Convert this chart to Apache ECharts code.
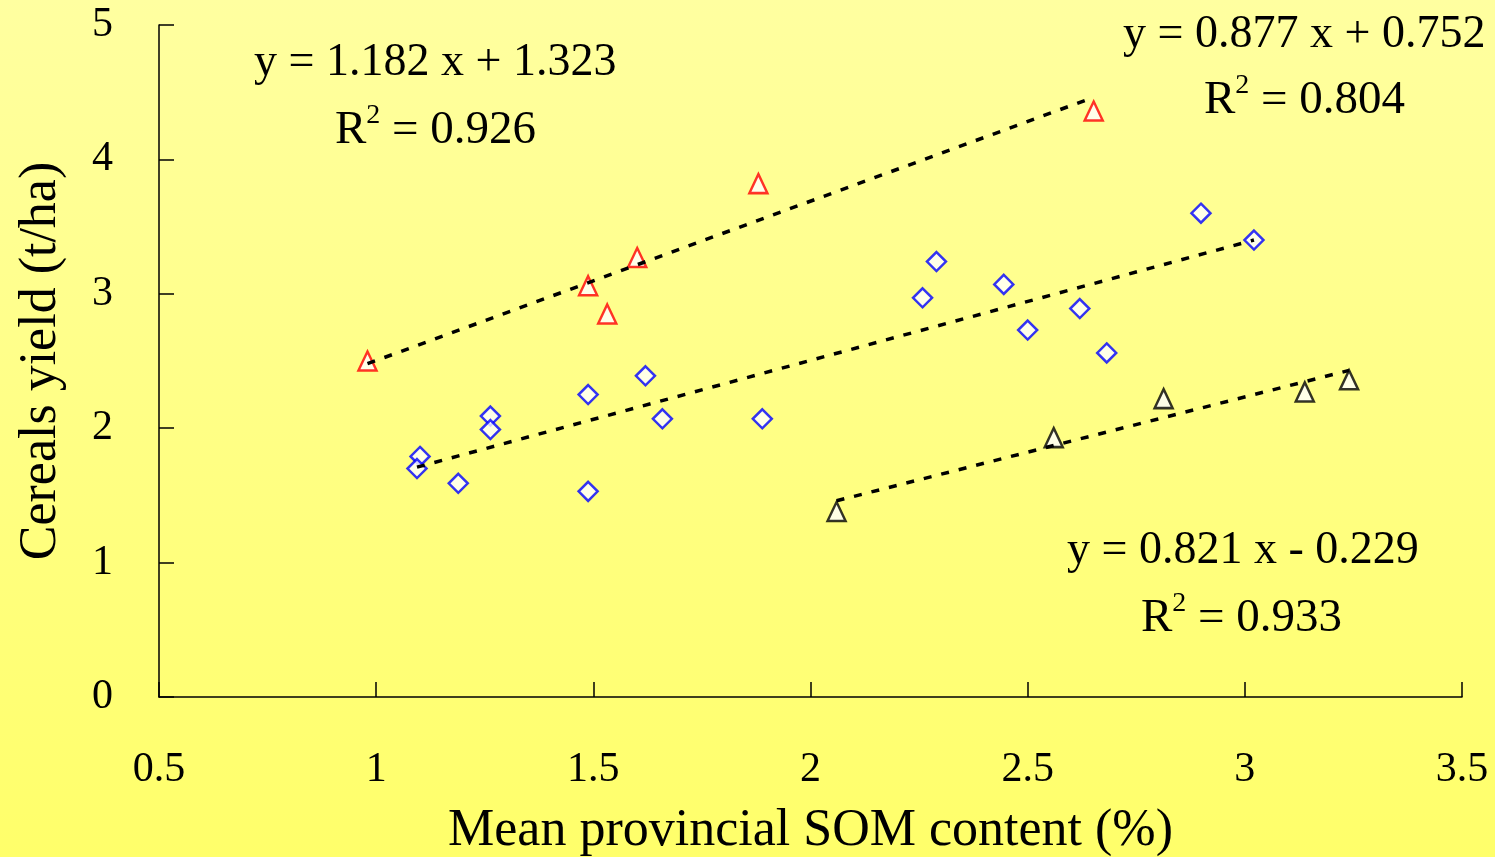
<!DOCTYPE html>
<html>
<head>
<meta charset="utf-8">
<script src="https://cdn.jsdelivr.net/npm/echarts@6/dist/echarts.min.js"></script>
<style>
html,body{margin:0;padding:0;background:#ffff99;}
#chart{width:1495px;height:857px;}
</style>
</head>
<body>
<div id="chart"></div>
<script>
// ---- data ----
var xTicks = [0.5, 1, 1.5, 2, 2.5, 3, 3.5];
var yTicks = [0, 1, 2, 3, 4, 5];

// red triangles
var redX = [0.98, 1.488, 1.532, 1.601, 1.880, 2.652];
var redY = [2.50, 3.06, 2.85, 3.27, 3.82, 4.36];

// blue diamonds
var blueX = [1.101, 1.094, 1.189, 1.263, 1.263, 1.488, 1.620, 1.659, 1.488, 1.889, 2.258, 2.290, 2.445, 2.500, 2.620, 2.682, 2.899, 3.021];
var blueY = [1.79, 1.70, 1.59, 2.09, 1.99, 2.25, 2.39, 2.07, 1.53, 2.07, 2.97, 3.24, 3.07, 2.73, 2.89, 2.56, 3.60, 3.40];

// black triangles
var blackX = [2.060, 2.560, 2.813, 3.138, 3.240];
var blackY = [1.38, 1.93, 2.22, 2.27, 2.36];

// trendline end points (x, y)
var redTrendX = [0.98, 2.65];
var redTrendY = [2.48, 4.46];
var blueTrendX = [1.094, 3.021];
var blueTrendY = [1.71, 3.40];
var blackTrendX = [2.06, 3.24];
var blackTrendY = [1.46, 2.43];

// equation texts
var eqRed = ['y = 1.182 x + 1.323', '0.926'];
var eqBlue = ['y = 0.877 x + 0.752', '0.804'];
var eqBlack = ['y = 0.821 x - 0.229', '0.933'];

function pairs(xs, ys) { return xs.map(function (x, i) { return [x, ys[i]]; }); }

var FONT = 'Liberation Serif, Times New Roman, serif';

var chart = echarts.init(document.getElementById('chart'), null, {renderer: 'canvas'});

function eqText(str, left, top) {
  return {
    type: 'text', left: left, top: top, z: 100,
    style: {text: str, font: '46px ' + FONT, fill: '#000'}
  };
}
function r2Text(val, left, top) {
  return {
    type: 'text', left: left, top: top, z: 100,
    style: {
      text: '{r|R}{s|2}{r| = ' + val + '}',
      fill: '#000',
      rich: {
        r: {fontSize: 47, fontFamily: FONT, lineHeight: 52, fill: '#000', verticalAlign: 'bottom'},
        s: {fontSize: 28, fontFamily: FONT, lineHeight: 28, fill: '#000', verticalAlign: 'top'}
      }
    }
  };
}

var scatterCommon = {
  type: 'scatter', z: 2,
  emphasis: {disabled: true}
};
var lineCommon = {
  type: 'line', z: 5, symbol: 'none', silent: true,
  lineStyle: {color: '#000', width: 3.5, type: [8, 10]}
};

var option = {
  animation: false,
  backgroundColor: {
    type: 'linear', x: 0, y: 0, x2: 0, y2: 1,
    colorStops: [{offset: 0, color: '#ffffa0'}, {offset: 1, color: '#ffff6a'}]
  },
  grid: {left: 159, right: 33, top: 25, bottom: 160, containLabel: false, outerBoundsMode: 'none'},
  xAxis: {
    type: 'value', min: xTicks[0], max: xTicks[xTicks.length - 1], interval: 0.5,
    name: 'Mean provincial SOM content (%)', nameLocation: 'middle', nameGap: 108,
    nameTextStyle: {fontFamily: FONT, fontSize: 52, color: '#000'},
    axisLine: {show: true, lineStyle: {color: '#000', width: 1.5}},
    axisTick: {show: true, inside: true, length: 15, lineStyle: {color: '#000', width: 1.5}},
    axisLabel: {fontFamily: FONT, fontSize: 42, color: '#000', margin: 52, showMinLabel: true, showMaxLabel: true, hideOverlap: false},
    splitLine: {show: false}
  },
  yAxis: {
    type: 'value', min: yTicks[0], max: yTicks[yTicks.length - 1], interval: 1,
    name: 'Cereals yield (t/ha)', nameLocation: 'middle', nameGap: 92,
    nameTextStyle: {fontFamily: FONT, fontSize: 52, color: '#000'},
    axisLine: {show: true, lineStyle: {color: '#000', width: 1.5}},
    axisTick: {show: true, inside: true, length: 15, lineStyle: {color: '#000', width: 1.5}},
    axisLabel: {fontFamily: FONT, fontSize: 42, color: '#000', margin: 46, showMinLabel: true, showMaxLabel: true},
    splitLine: {show: false}
  },
  series: [
    Object.assign({}, scatterCommon, {
      name: 'red', data: pairs(redX, redY), symbol: 'triangle', symbolSize: [18, 19],
      itemStyle: {color: '#ffffff', borderColor: '#ff0000', borderWidth: 2.5}
    }),
    Object.assign({}, scatterCommon, {
      name: 'blue', data: pairs(blueX, blueY), symbol: 'diamond', symbolSize: [19, 19],
      itemStyle: {color: '#ffffff', borderColor: '#0000ff', borderWidth: 2.5}
    }),
    Object.assign({}, scatterCommon, {
      name: 'black', data: pairs(blackX, blackY), symbol: 'triangle', symbolSize: [18, 19],
      itemStyle: {color: '#ffffff', borderColor: '#000000', borderWidth: 2.5}
    }),
    Object.assign({}, lineCommon, {name: 'redTrend', data: pairs(redTrendX, redTrendY)}),
    Object.assign({}, lineCommon, {name: 'blueTrend', data: pairs(blueTrendX, blueTrendY)}),
    Object.assign({}, lineCommon, {name: 'blackTrend', data: pairs(blackTrendX, blackTrendY)})
  ],
  graphic: [
    eqText(eqRed[0], 254, 40),
    r2Text(eqRed[1], 335, 102),
    eqText(eqBlue[0], 1123, 12),
    r2Text(eqBlue[1], 1204, 72),
    eqText(eqBlack[0], 1067, 528),
    r2Text(eqBlack[1], 1141, 590)
  ]
};
chart.setOption(option);
</script>
</body>
</html>
